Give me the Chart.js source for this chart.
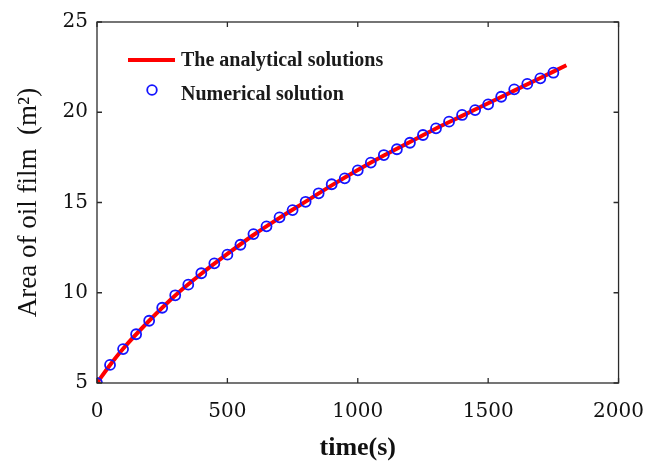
<!DOCTYPE html>
<html>
<head>
<meta charset="utf-8">
<script src="https://cdn.jsdelivr.net/npm/chart.js@4/dist/chart.umd.min.js"></script>
<style>
  html, body { margin: 0; padding: 0; background: #ffffff; }
  #wrap { width: 661px; height: 461px; position: relative; }
</style>
</head>
<body>
<div id="wrap"><canvas id="c" width="661" height="461"></canvas></div>
<script>
// ---- data ----
const numTime = [0, 50, 100, 150, 200, 250, 300, 350, 400, 450, 500, 550, 600, 650, 700, 750, 800, 850, 900, 950, 1000, 1050, 1100, 1150, 1200, 1250, 1300, 1350, 1400, 1450, 1500, 1550, 1600, 1650, 1700, 1750];
const numArea = [5.0, 6.0, 6.88, 7.7, 8.45, 9.17, 9.86, 10.45, 11.08, 11.63, 12.11, 12.66, 13.25, 13.68, 14.18, 14.58, 15.04, 15.51, 16.01, 16.34, 16.78, 17.21, 17.63, 17.95, 18.31, 18.74, 19.11, 19.48, 19.85, 20.12, 20.44, 20.86, 21.27, 21.57, 21.88, 22.19];
const anaTime = [0, 50, 100, 200, 300, 400, 500, 600, 700, 800, 900, 1000, 1100, 1200, 1300, 1400, 1500, 1600, 1700, 1800];
const anaArea = [5.0, 6.0, 6.9, 8.45, 9.85, 11.05, 12.15, 13.2, 14.15, 15.05, 15.95, 16.8, 17.6, 18.35, 19.1, 19.8, 20.5, 21.2, 21.9, 22.6];
const xTicks = [0, 500, 1000, 1500, 2000];
const yTicks = [5, 10, 15, 20, 25];
const legendLabels = ['The analytical solutions', 'Numerical solution'];
const xTitle = 'time(s)';
const yTitle = 'Area of oil film  (m²)';

const RED = '#ff0000';
const BLUE = '#1414ff';
const FRAME = '#2b2b2b';

const framePlugin = {
  id: 'frame',
  afterDraw(chart) {
    const ctx = chart.ctx;
    const a = chart.chartArea;
    const xs = chart.scales.x, ys = chart.scales.y;
    ctx.save();
    ctx.strokeStyle = FRAME;
    ctx.lineWidth = 1.3;
    ctx.strokeRect(a.left, a.top, a.right - a.left, a.bottom - a.top);
    const tl = 5;
    ctx.beginPath();
    xTicks.forEach(v => {
      const px = xs.getPixelForValue(v);
      ctx.moveTo(px, a.bottom); ctx.lineTo(px, a.bottom - tl);
      ctx.moveTo(px, a.top); ctx.lineTo(px, a.top + tl);
    });
    yTicks.forEach(v => {
      const py = ys.getPixelForValue(v);
      ctx.moveTo(a.left, py); ctx.lineTo(a.left + tl, py);
      ctx.moveTo(a.right, py); ctx.lineTo(a.right - tl, py);
    });
    ctx.stroke();

    // legend (inside plot, top-left)
    ctx.font = 'bold 20px "Liberation Serif"';
    ctx.fillStyle = '#1a1a1a';
    ctx.textBaseline = 'middle';
    ctx.textAlign = 'left';
    ctx.strokeStyle = RED;
    ctx.lineWidth = 4;
    ctx.beginPath();
    ctx.moveTo(128, 60); ctx.lineTo(175, 60);
    ctx.stroke();
    ctx.fillText(legendLabels[0], 181, 61);
    ctx.strokeStyle = BLUE;
    ctx.lineWidth = 1.8;
    ctx.beginPath();
    ctx.arc(152, 90, 4.8, 0, Math.PI * 2);
    ctx.stroke();
    ctx.fillText(legendLabels[1], 181, 95);
    ctx.restore();
  }
};

new Chart(document.getElementById('c'), {
  type: 'scatter',
  data: {
    datasets: [
      {
        label: legendLabels[1],
        data: numTime.map((t, i) => ({x: t, y: numArea[i]})),
        showLine: false,
        pointStyle: 'circle',
        pointRadius: 5,
        pointBorderWidth: 1.8,
        pointBorderColor: BLUE,
        pointBackgroundColor: 'rgba(0,0,0,0)'
      },
      {
        label: legendLabels[0],
        data: anaTime.map((t, i) => ({x: t, y: anaArea[i]})),
        showLine: true,
        borderColor: RED,
        borderWidth: 4,
        pointRadius: 0,
        cubicInterpolationMode: 'monotone',
        fill: false
      }
    ]
  },
  options: {
    responsive: false,
    animation: false,
    devicePixelRatio: 1,
    layout: { padding: { left: 0, right: 40, top: 22, bottom: 0 } },
    plugins: { legend: { display: false }, tooltip: { enabled: false } },
    scales: {
      x: {
        type: 'linear', min: 0, max: 2000,
        afterBuildTicks(s) { s.ticks = xTicks.map(v => ({value: v})); },
        afterFit(s) { s.height = 78; },
        grid: { display: false, drawTicks: false },
        border: { display: false },
        ticks: { padding: 17, color: '#111', font: { family: 'DejaVu Serif', size: 20 }, maxRotation: 0, callback: v => String(v) },
        title: { display: true, text: xTitle, color: '#111', font: { family: 'Liberation Serif', size: 26, weight: 'bold' }, padding: { top: 0, bottom: -3 } }
      },
      y: {
        type: 'linear', min: 5, max: 25,
        afterBuildTicks(s) { s.ticks = yTicks.map(v => ({value: v})); },
        afterFit(s) { s.width = 97; },
        grid: { display: false, drawTicks: false },
        border: { display: false },
        ticks: { padding: 9, color: '#111', font: { family: 'DejaVu Serif', size: 20 }, callback: v => String(v) },
        title: { display: true, text: yTitle, color: '#111', font: { family: 'Liberation Serif', size: 27, weight: 'normal' }, padding: { top: 13, bottom: 0 } }
      }
    }
  },
  plugins: [framePlugin]
});
</script>
</body>
</html>
